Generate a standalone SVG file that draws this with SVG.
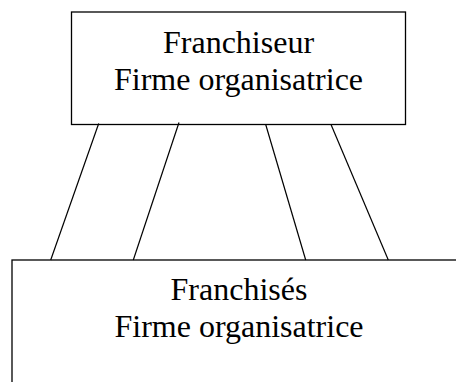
<svg xmlns="http://www.w3.org/2000/svg" width="456" height="382" viewBox="0 0 456 382">
<style>
.box{fill:#fff;stroke:#000;stroke-width:1.3}
.t{font-family:"Liberation Serif","Times New Roman",serif;font-size:32px;fill:#000;text-anchor:middle}
.c line{stroke:#000;stroke-width:1.2}
</style>
<rect width="456" height="382" fill="#fff"/>
<g id="franchiseur">
<rect class="box" x="71.5" y="12" width="334" height="112.5"/>
<text class="t" x="238.5" y="53">Franchiseur</text>
<text class="t" x="238.5" y="90">Firme organisatrice</text>
</g>
<g id="franchises">
<rect class="box" x="12" y="260" width="460" height="140"/>
<text class="t" x="239" y="300">Franchisés</text>
<text class="t" x="239" y="337">Firme organisatrice</text>
</g>
<g class="c" id="connectors">
<line x1="98.7" y1="123.5" x2="50.7" y2="260"/>
<line x1="179" y1="122.5" x2="133.3" y2="260"/>
<line x1="265.7" y1="124.5" x2="305.7" y2="260"/>
<line x1="331" y1="124.5" x2="388.3" y2="260"/>
</g>
</svg>
